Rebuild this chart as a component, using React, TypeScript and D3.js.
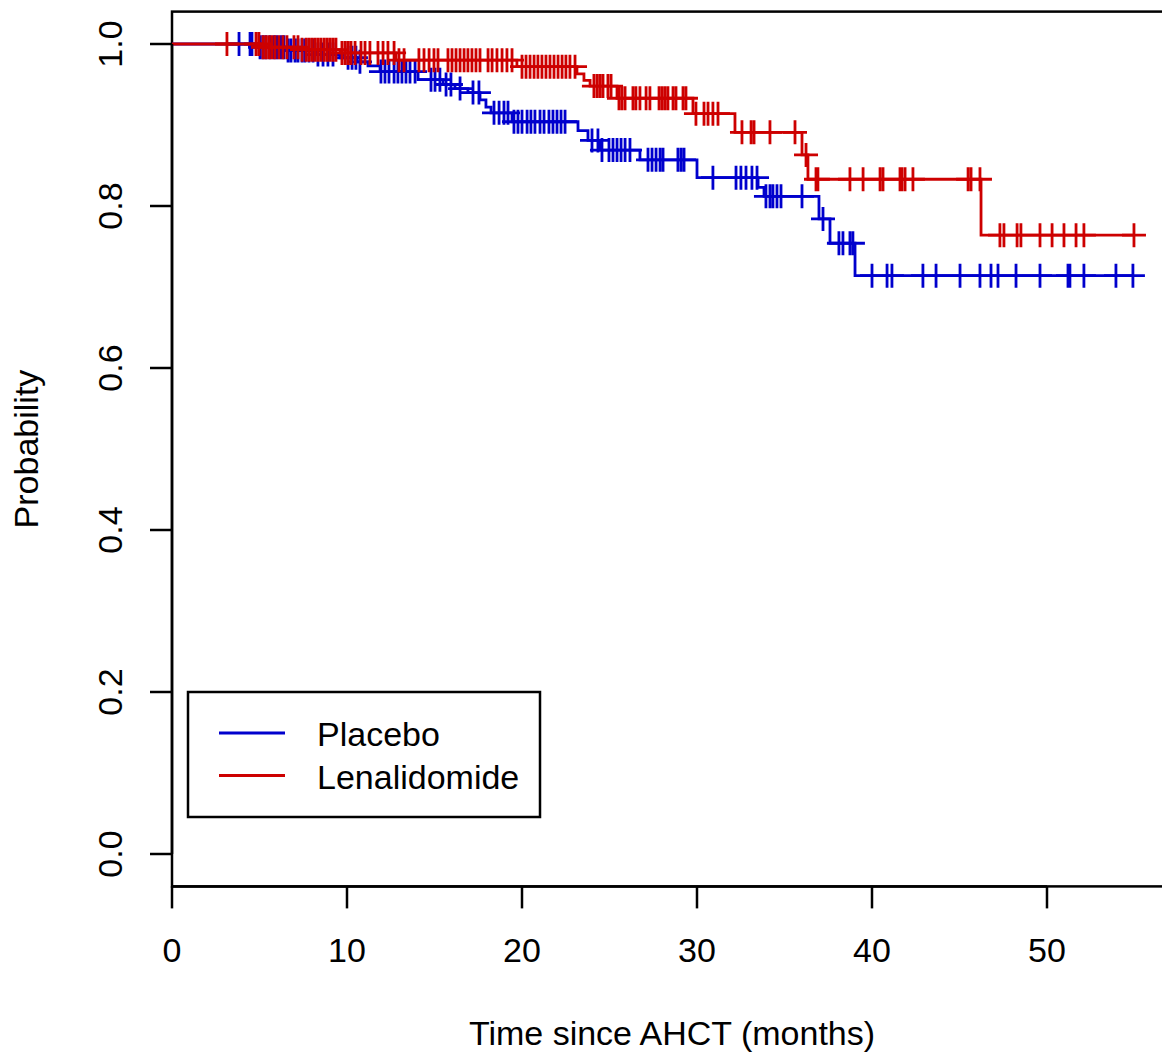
import React from 'react';
import * as d3 from 'd3';

// ---- data (months / survival probability) ----
const xTicks = [0, 10, 20, 30, 40, 50];
const yTicks = [0.0, 0.2, 0.4, 0.6, 0.8, 1.0];
const groupNames = ['Placebo', 'Lenalidomide'];
const groupColors = ['#0000CD', '#CD0000'];

const placeboEventTimes = [4.91, 6.46, 8.23, 9.6, 10.57, 11.2, 11.89, 14.06, 15.49, 16.17, 16.91, 17.6, 17.94, 18.23, 19.43, 23.2, 23.77, 24.46, 26.74, 30.0, 33.49, 33.83, 36.97, 37.6, 39.03];
const placeboSurvival = [0.996, 0.992, 0.987, 0.983, 0.978, 0.973, 0.966, 0.956, 0.95, 0.945, 0.94, 0.931, 0.922, 0.915, 0.904, 0.893, 0.881, 0.869, 0.857, 0.835, 0.823, 0.812, 0.784, 0.754, 0.714];
const placeboCensorTimes = [3.83, 4.46, 4.57, 5.03, 5.2, 5.37, 5.6, 5.83, 6.0, 6.23, 6.4, 6.63, 6.8, 7.03, 7.2, 7.43, 7.6, 7.83, 8.06, 8.34, 8.63, 8.91, 9.2, 10.06, 10.29, 10.51, 10.74, 11.94, 12.17, 12.4, 12.69, 12.91, 13.14, 13.37, 13.6, 13.89, 14.8, 15.03, 15.31, 15.66, 15.94, 16.46, 17.2, 17.54, 18.4, 18.69, 18.97, 19.2, 19.54, 19.77, 20.0, 20.29, 20.51, 20.74, 21.03, 21.26, 21.54, 21.77, 22.0, 22.23, 22.46, 24.0, 24.34, 24.57, 24.97, 25.2, 25.43, 25.66, 25.89, 26.17, 27.2, 27.43, 27.66, 27.89, 28.06, 28.91, 29.09, 29.26, 30.91, 32.23, 32.51, 32.8, 33.14, 33.43, 33.94, 34.17, 34.34, 34.57, 34.8, 36.0, 37.2, 38.11, 38.34, 38.74, 38.91, 40.0, 40.86, 41.14, 42.91, 43.66, 45.03, 46.17, 46.8, 47.2, 48.23, 49.6, 51.2, 51.31, 52.11, 53.94, 54.91];

const lenaEventTimes = [5.14, 7.31, 9.6, 12.8, 19.71, 23.14, 23.54, 23.89, 25.43, 29.77, 32.17, 36.0, 36.34, 46.23];
const lenaSurvival = [0.996, 0.993, 0.989, 0.98, 0.972, 0.963, 0.955, 0.948, 0.933, 0.914, 0.891, 0.863, 0.833, 0.764];
const lenaCensorTimes = [3.14, 4.8, 4.97, 5.2, 5.37, 5.54, 5.71, 5.89, 6.11, 6.34, 6.57, 6.97, 7.2, 7.43, 7.66, 7.83, 8.0, 8.17, 8.34, 8.51, 8.69, 8.86, 9.03, 9.2, 9.37, 9.71, 9.89, 10.06, 10.23, 10.46, 10.8, 11.03, 11.31, 11.77, 12.06, 12.34, 12.69, 12.97, 13.26, 14.11, 14.4, 14.69, 14.97, 15.2, 15.77, 16.0, 16.23, 16.46, 16.69, 16.91, 17.14, 17.37, 17.6, 18.06, 18.29, 18.57, 18.86, 19.14, 19.43, 20.0, 20.23, 20.46, 20.69, 20.91, 21.14, 21.37, 21.6, 21.83, 22.06, 22.29, 22.51, 22.74, 23.03, 24.11, 24.29, 24.46, 24.63, 24.91, 25.09, 25.54, 25.71, 25.89, 26.34, 26.51, 26.74, 27.09, 27.31, 27.83, 28.0, 28.17, 28.34, 28.63, 28.8, 29.2, 29.37, 29.94, 30.4, 30.63, 30.91, 31.2, 32.57, 33.09, 33.26, 34.17, 35.6, 36.23, 36.8, 36.91, 38.74, 39.49, 40.46, 40.63, 41.6, 41.71, 41.89, 42.34, 45.49, 45.66, 46.17, 47.31, 47.54, 48.29, 48.51, 49.6, 50.29, 50.97, 51.66, 52.11, 54.97];

const seriesEvents = [placeboEventTimes, lenaEventTimes];
const seriesSurvival = [placeboSurvival, lenaSurvival];
const seriesCensors = [placeboCensorTimes, lenaCensorTimes];

function survivalAt(times: number[], surv: number[], t: number): number {
  let s = 1;
  for (let i = 0; i < times.length; i++) {
    if (times[i] <= t) s = surv[i];
  }
  return s;
}

export default function App() {
  const W = 1162;
  const H = 1055;
  const left = 172;
  const right = 1172;
  const top = 11.6;
  const bottom = 886.4;

  const x = d3.scaleLinear().domain([0, 57.143]).range([left, right]);
  const y = d3.scaleLinear().domain([-0.04, 1.04]).range([bottom, top]);

  const line = d3
    .line<[number, number]>()
    .x((d) => x(d[0]))
    .y((d) => y(d[1]))
    .curve(d3.curveStepAfter);

  const font = '"Liberation Sans", Arial, Helvetica, sans-serif';
  const fs = 34;
  const arm = 12;
  const lw = 2.8;
  const axw = 2.5;

  const curves = groupNames.map((name, gi) => {
    const times = seriesEvents[gi];
    const surv = seriesSurvival[gi];
    const cens = seriesCensors[gi];
    const endT = Math.max(d3.max(times) || 0, d3.max(cens) || 0);
    const pts: [number, number][] = [[0, 1]];
    times.forEach((t, i) => pts.push([t, surv[i]]));
    pts.push([endT, surv[surv.length - 1]]);
    const marks = cens
      .map((c) => {
        const cx = x(c);
        const cy = y(survivalAt(times, surv, c));
        return `M${cx - arm},${cy}H${cx + arm}M${cx},${cy - arm}V${cy + arm}`;
      })
      .join('');
    return { name, color: groupColors[gi], d: line(pts) || '', marks };
  });

  return (
    <svg
      width={W}
      height={H}
      style={{ position: 'absolute', left: 0, top: 0, background: '#fff' }}
      fontFamily={font}
    >
      <rect x={0} y={0} width={W} height={H} fill="#fff" />
      {/* plot box */}
      <rect x={left} y={top} width={right - left} height={bottom - top} fill="none" stroke="#000" strokeWidth={axw} />

      {/* curves */}
      {curves.map((c) => (
        <g key={c.name}>
          <path d={c.d} fill="none" stroke={c.color} strokeWidth={lw} />
          <path d={c.marks} fill="none" stroke={c.color} strokeWidth={lw} />
        </g>
      ))}

      {/* x axis */}
      <g>
        <line x1={x(xTicks[0])} x2={x(xTicks[xTicks.length - 1])} y1={bottom} y2={bottom} stroke="#000" strokeWidth={axw} />
        {xTicks.map((t) => (
          <g key={t}>
            <line x1={x(t)} x2={x(t)} y1={bottom} y2={bottom + 22} stroke="#000" strokeWidth={axw} />
            <text x={x(t)} y={962} textAnchor="middle" fontSize={fs} fill="#000">
              {t}
            </text>
          </g>
        ))}
        <text x={(left + right) / 2} y={1045} textAnchor="middle" fontSize={fs} fill="#000">
          Time since AHCT (months)
        </text>
      </g>

      {/* y axis */}
      <g>
        <line x1={left} x2={left} y1={y(yTicks[0])} y2={y(yTicks[yTicks.length - 1])} stroke="#000" strokeWidth={axw} />
        {yTicks.map((t) => (
          <g key={t}>
            <line x1={left - 22} x2={left} y1={y(t)} y2={y(t)} stroke="#000" strokeWidth={axw} />
            <text
              transform={`translate(122,${y(t)}) rotate(-90)`}
              textAnchor="middle"
              fontSize={fs}
              fill="#000"
            >
              {t.toFixed(1)}
            </text>
          </g>
        ))}
        <text
          transform={`translate(38,${(top + bottom) / 2}) rotate(-90)`}
          textAnchor="middle"
          fontSize={fs}
          fill="#000"
        >
          Probability
        </text>
      </g>

      {/* legend */}
      <g>
        <rect x={188} y={692} width={352} height={125} fill="#fff" stroke="#000" strokeWidth={axw} />
        {curves.map((c, i) => (
          <g key={c.name}>
            <line x1={219} x2={285} y1={733 + i * 42.5} y2={733 + i * 42.5} stroke={c.color} strokeWidth={lw} />
            <text x={317} y={746 + i * 42.5} fontSize={fs} fill="#000">
              {c.name}
            </text>
          </g>
        ))}
      </g>
    </svg>
  );
}
